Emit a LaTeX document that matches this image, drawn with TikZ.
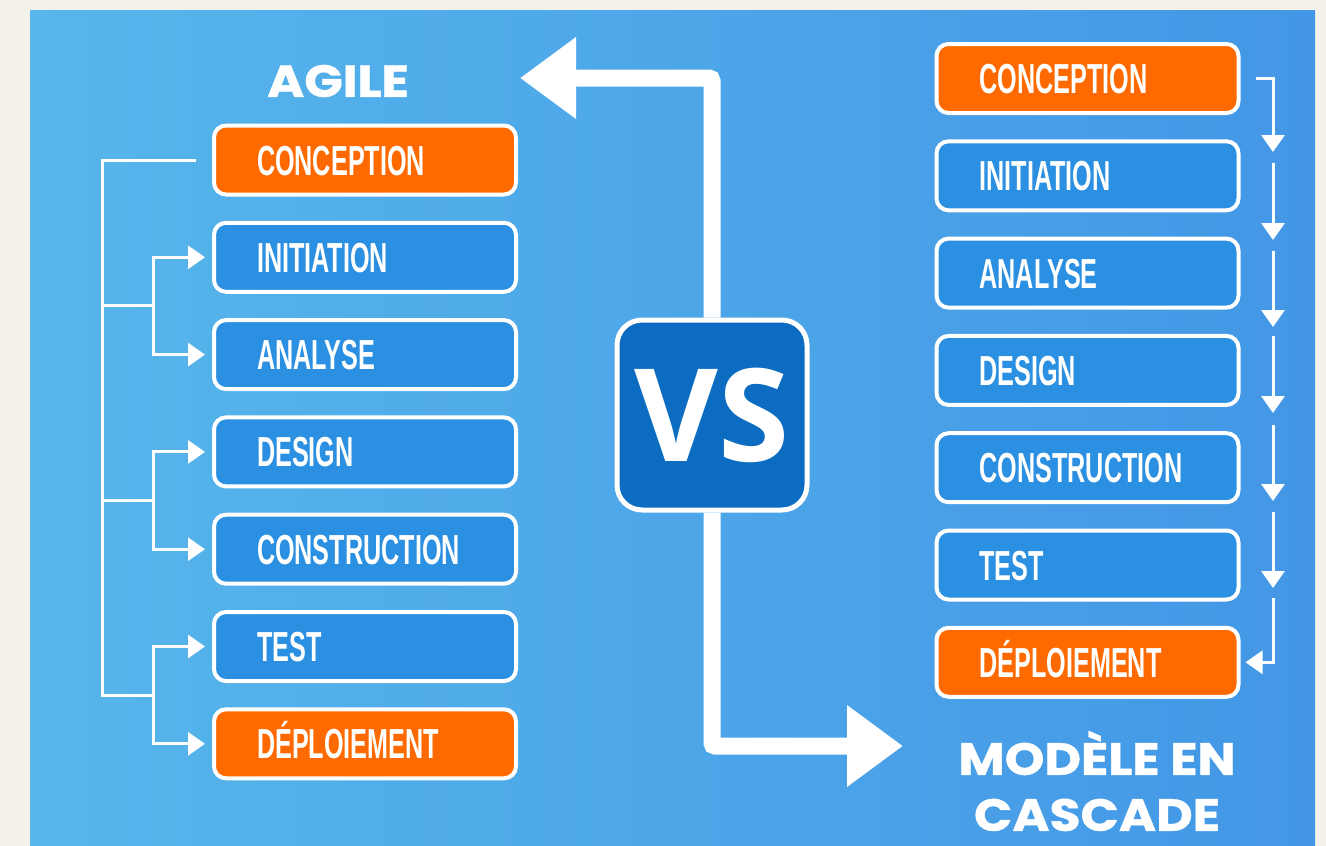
\documentclass[tikz,border=0pt]{standalone}
\usepackage{fontspec}
\usetikzlibrary{arrows.meta,calc}
\newfontfamily\boxfont{Liberation Sans}[FakeStretch=0.6]
\newfontfamily\titlefont{Poppins}[FakeStretch=1.12,FakeBold=1]
\newfontfamily\vsfont{Open Sans}
\definecolor{cream}{HTML}{F4F1EA}
\definecolor{panelL}{HTML}{57B6EB}
\definecolor{panelR}{HTML}{4397E6}
\definecolor{phaseorange}{HTML}{FF6A00}
\definecolor{phaseblue}{HTML}{2B90E1}
\definecolor{vsblue}{HTML}{0B6CC2}
\begin{document}
\begin{tikzpicture}[x=1pt,y=-1pt,
  phase/.style={draw=white, line width=4pt, rounded corners=12pt,
    minimum width=302pt, minimum height=69pt, text width=216pt,
    inner xsep=43pt, align=left, text height=30pt, text depth=0pt,
    text=white, font=\boxfont\bfseries\fontsize{42}{42}\selectfont},
  orangephase/.style={phase, fill=phaseorange},
  bluephase/.style={phase, fill=phaseblue},
  title/.style={text=white, inner sep=0pt,
    font=\titlefont\bfseries\fontsize{45}{56}\selectfont},
  vsbox/.style={draw=white, line width=5pt, rounded corners=25pt, fill=vsblue,
    minimum width=190pt, minimum height=190pt, text=white,
    text height=92pt, text depth=0pt, inner sep=0pt,
    font=\vsfont\bfseries\fontsize{129}{129}\selectfont},
  conn/.style={draw=white, line width=3pt},
  smallarrow/.style={conn, -{Triangle[length=17pt,width=23pt]}},
  bigarrow/.style={draw=white, line width=17pt, rounded corners=3pt,
    -{Triangle[length=56pt,width=78pt]}}
]
\useasboundingbox (0,0) rectangle (1326,846);
\fill[cream] (0,0) rectangle (1326,846);
\shade[left color=panelL, right color=panelR] (30,10) rectangle (1315,846);

% left column (Agile)
\node[orangephase] (a1) at (365,160.0) {CONCEPTION};
\node[bluephase]   (a2) at (365,257.3) {INITIATION};
\node[bluephase]   (a3) at (365,354.6) {ANALYSE};
\node[bluephase]   (a4) at (365,451.9) {DESIGN};
\node[bluephase]   (a5) at (365,549.2) {CONSTRUCTION};
\node[bluephase]   (a6) at (365,646.5) {TEST};
\node[orangephase] (a7) at (365,743.8) {DÉPLOIEMENT};

% right column (cascade)
\node[orangephase] (r1) at (1087.5,78.5) {CONCEPTION};
\node[bluephase]   (r2) at (1087.5,175.8) {INITIATION};
\node[bluephase]   (r3) at (1087.5,273.1) {ANALYSE};
\node[bluephase]   (r4) at (1087.5,370.4) {DESIGN};
\node[bluephase]   (r5) at (1087.5,467.7) {CONSTRUCTION};
\node[bluephase]   (r6) at (1087.5,565.0) {TEST};
\node[orangephase] (r7) at (1087.5,662.3) {DÉPLOIEMENT};

% titles
\node[title] (agile) at (338,81) {AGILE};
\node[title, align=center] (cascade) at (1097,781) {MODÈLE EN\\CASCADE};

% VS box and big arrows
\node[vsbox] (vs) at (712,415) {VS};
\coordinate (agiletip) at (520,78);
\coordinate (cascadetip) at (903,746);
\draw[bigarrow] (vs.north) |- (agiletip);
\draw[bigarrow] (vs.south) |- (cascadetip);

% agile connectors
\coordinate (trunkbottom) at ($(a6.west)!.5!(a7.west)+(-110pt,0)$);
\coordinate (b1) at ($(a2.west)!.5!(a3.west)+(-59pt,0)$);
\coordinate (b2) at ($(a4.west)!.5!(a5.west)+(-59pt,0)$);
\coordinate (b3) at ($(a6.west)!.5!(a7.west)+(-59pt,0)$);
\draw[conn] ([xshift=-16pt]a1.west) -| (trunkbottom) -- (b3);
\draw[conn] (b1 -| trunkbottom) -- (b1);
\draw[conn] (b2 -| trunkbottom) -- (b2);
\draw[smallarrow] (b1) |- ([xshift=-7pt]a2.west);
\draw[smallarrow] (b1) |- ([xshift=-7pt]a3.west);
\draw[smallarrow] (b2) |- ([xshift=-7pt]a4.west);
\draw[smallarrow] (b2) |- ([xshift=-7pt]a5.west);
\draw[smallarrow] (b3) |- ([xshift=-7pt]a6.west);
\draw[smallarrow] (b3) |- ([xshift=-7pt]a7.west);

% cascade connectors
\coordinate (w1) at (1273,152);
\coordinate (s2) at (1273,163);
\coordinate (w2) at (1273,240);
\coordinate (s3) at (1273,251);
\coordinate (w3) at (1273,327);
\coordinate (s4) at (1273,336);
\coordinate (w4) at (1273,413);
\coordinate (s5) at (1273,425);
\coordinate (w5) at (1273,501);
\coordinate (s6) at (1273,512);
\coordinate (w6) at (1273,588);
\coordinate (s7) at (1273,598);
\draw[smallarrow] ([xshift=15pt]r1.east) -| (w1);
\draw[smallarrow] (s2) -- (w2);
\draw[smallarrow] (s3) -- (w3);
\draw[smallarrow] (s4) -- (w4);
\draw[smallarrow] (s5) -- (w5);
\draw[smallarrow] (s6) -- (w6);
\draw[smallarrow] (s7) |- ([xshift=5pt]r7.east);
\end{tikzpicture}
\end{document}
